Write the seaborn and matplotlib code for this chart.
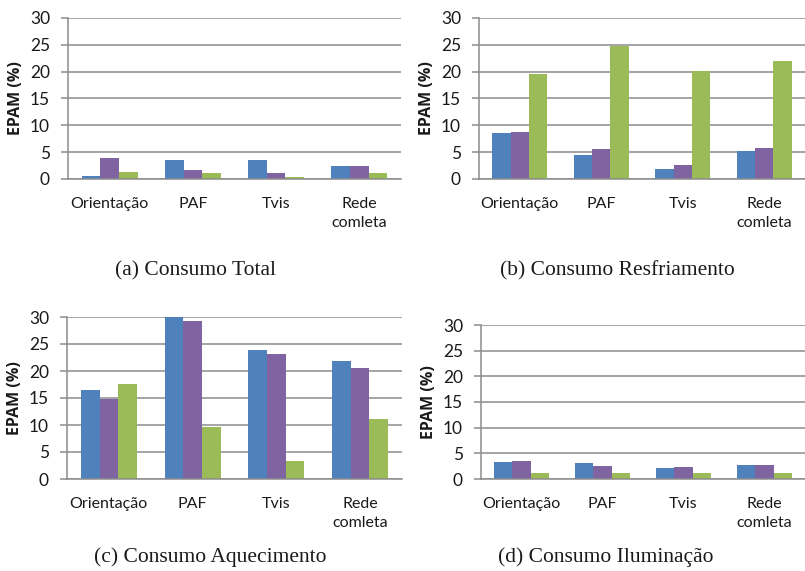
import matplotlib
matplotlib.use("Agg")
import matplotlib.pyplot as plt
import numpy as np
import pandas as pd
import seaborn as sns

# Categories and series
categorias = ["Orientação", "PAF", "Tvis", "Rede\ncomleta"]
series = ["Série 1", "Série 2", "Série 3"]
cores = ["#4F81BD", "#8064A2", "#9BBB59"]

# EPAM (%) per panel, one list per series
total_s1 = [0.6, 3.5, 3.5, 2.45]
total_s2 = [4.0, 1.75, 1.05, 2.45]
total_s3 = [1.25, 1.05, 0.4, 1.05]

resfr_s1 = [8.6, 4.4, 1.9, 5.3]
resfr_s2 = [8.85, 5.5, 2.6, 5.75]
resfr_s3 = [19.5, 24.8, 20.2, 22.0]

aquec_s1 = [16.5, 30.0, 23.8, 21.8]
aquec_s2 = [14.85, 29.2, 23.2, 20.5]
aquec_s3 = [17.6, 9.7, 3.4, 11.2]

ilum_s1 = [3.25, 3.05, 2.15, 2.8]
ilum_s2 = [3.5, 2.6, 2.35, 2.8]
ilum_s3 = [1.15, 1.15, 1.15, 1.15]

titulos = ["(a) Consumo Total", "(b) Consumo Resfriamento",
           "(c) Consumo Aquecimento", "(d) Consumo Iluminação"]

paineis = [
    (total_s1, total_s2, total_s3),
    (resfr_s1, resfr_s2, resfr_s3),
    (aquec_s1, aquec_s2, aquec_s3),
    (ilum_s1, ilum_s2, ilum_s3),
]

W, H = 805, 571
fig = plt.figure(figsize=(W / 100, H / 100), dpi=100)

# axes boxes in pixels: left, right, top, bottom
caixas = [
    (68, 401, 18, 179),
    (479, 805, 18, 179),
    (67, 402, 317, 479),
    (481, 805, 325, 479),
]
legenda_pos = [(195, 271), (617, 271), (210, 557), (606, 557)]
ylabel_x = [16, 427, 15, 429]

sans = ["Lato", "DejaVu Sans"]
grid_cor = "#8C8C8C"
texto_cor = "#1a1a1a"

for i, (dados, (l, r, t, b)) in enumerate(zip(paineis, caixas)):
    ax = fig.add_axes([l / W, 1 - b / H, (r - l) / W, (b - t) / H])
    linhas = []
    for nome, vals in zip(series, dados):
        for c, v in zip(categorias, vals):
            linhas.append({"categoria": c, "serie": nome, "epam": v})
    df = pd.DataFrame(linhas)
    sns.barplot(data=df, x="categoria", y="epam", hue="serie",
                order=categorias, hue_order=series, palette=cores,
                width=0.67, saturation=1, legend=False, ax=ax,
                edgecolor="none", linewidth=0)
    ax.set_ylim(0, 30)
    ax.set_xlim(-0.5, 3.5)
    ax.set_yticks(range(0, 31, 5))
    ax.yaxis.grid(True, color=grid_cor, linewidth=1.1)
    ax.set_axisbelow(True)
    for s in ["top", "right"]:
        ax.spines[s].set_visible(False)
    for s in ["left", "bottom"]:
        ax.spines[s].set_color(grid_cor)
        ax.spines[s].set_linewidth(1.1)
    ax.tick_params(axis="y", length=5, width=1.1, color=grid_cor, pad=8,
                   labelsize=12.5, labelcolor=texto_cor)
    ax.tick_params(axis="x", length=0, pad=13, labelsize=11.5,
                   labelcolor=texto_cor)
    for lab in ax.get_xticklabels() + ax.get_yticklabels():
        lab.set_family(sans)
    for lab in ax.get_xticklabels():
        lab.set_linespacing(1.45)
    ax.set_xlabel("")
    ax.set_ylabel("")
    fig.text(ylabel_x[i] / W, 1 - ((t + b) / 2) / H, "EPAM (%)",
             rotation=90, ha="center", va="center", fontsize=11.5,
             fontweight="bold", family=["Open Sans", "DejaVu Sans"],
             color=texto_cor)
    cx, cy = legenda_pos[i]
    fig.text(cx / W, 1 - cy / H, titulos[i], ha="center", va="center",
             fontsize=15.5, family=["Liberation Serif", "DejaVu Serif"],
             color=texto_cor)

fig.savefig("out.png", dpi=100)
